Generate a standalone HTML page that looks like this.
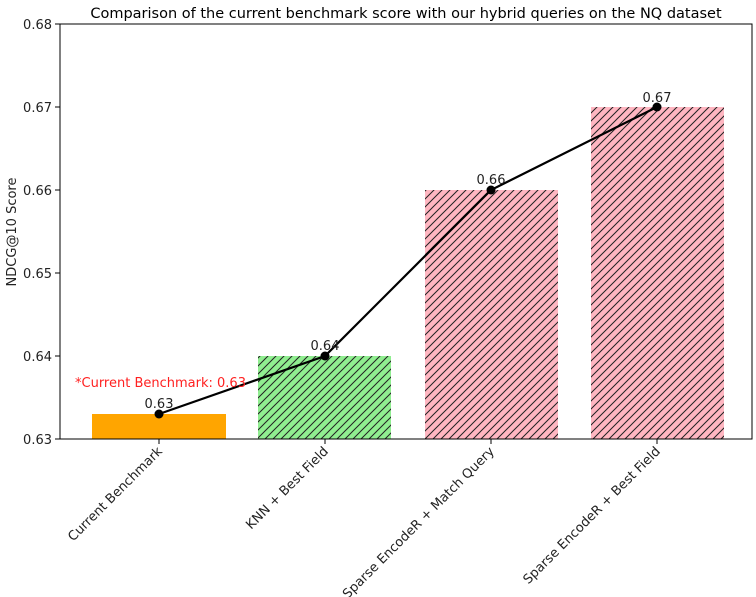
<!DOCTYPE html><html><head><style>body{margin:0;background:#fff}svg{display:block;font-family:"DejaVu Sans","Liberation Sans",sans-serif}</style></head><body>
<svg width="756" height="597" xmlns="http://www.w3.org/2000/svg">
<defs><pattern id="h" patternUnits="userSpaceOnUse" width="8" height="8"><path d="M-2,2 l4,-4 M0,8 l8,-8 M6,10 l4,-4" stroke="#222" stroke-width="1"/></pattern></defs>
<text x="406" y="18" text-anchor="middle" font-size="14.5" fill="#000">Comparison of the current benchmark score with our hybrid queries on the NQ dataset</text>
<rect x="92" y="414" width="134" height="25" fill="#ffa500"/>
<rect x="258" y="356" width="133" height="83" fill="#90ee90"/><rect x="258" y="356" width="133" height="83" fill="url(#h)"/>
<rect x="425" y="190" width="133" height="249" fill="#ffb6c1"/><rect x="425" y="190" width="133" height="249" fill="url(#h)"/>
<rect x="591" y="107" width="133" height="332" fill="#ffb6c1"/><rect x="591" y="107" width="133" height="332" fill="url(#h)"/>
<rect x="60" y="24" width="692" height="415" fill="none" stroke="#000" stroke-width="1"/>
<g stroke="#000"><line x1="55" y1="24" x2="60" y2="24"/><line x1="55" y1="107" x2="60" y2="107"/><line x1="55" y1="190" x2="60" y2="190"/><line x1="55" y1="273" x2="60" y2="273"/><line x1="55" y1="356" x2="60" y2="356"/><line x1="55" y1="439" x2="60" y2="439"/>
<line x1="159" y1="439" x2="159" y2="444"/><line x1="325" y1="439" x2="325" y2="444"/><line x1="491" y1="439" x2="491" y2="444"/><line x1="657" y1="439" x2="657" y2="444"/></g>
<g font-size="13" fill="#222" text-anchor="end"><text x="52" y="29">0.68</text><text x="52" y="112">0.67</text><text x="52" y="195">0.66</text><text x="52" y="278">0.65</text><text x="52" y="361">0.64</text><text x="52" y="444">0.63</text></g>
<text transform="translate(16,232) rotate(-90)" text-anchor="middle" font-size="13" fill="#222">NDCG@10 Score</text>
<g font-size="13" fill="#222" text-anchor="end">
<text transform="translate(163,452) rotate(-45)">Current Benchmark</text>
<text transform="translate(329,452) rotate(-45)">KNN + Best Field</text>
<text transform="translate(495,452) rotate(-45)">Sparse EncodeR + Match Query</text>
<text transform="translate(661,452) rotate(-45)">Sparse EncodeR + Best Field</text></g>
<polyline points="159,414 325,356 491,190 657,107" fill="none" stroke="#000" stroke-width="2.2"/>
<g fill="#000"><circle cx="159" cy="414" r="4.5"/><circle cx="325" cy="356" r="4.5"/><circle cx="491" cy="190" r="4.5"/><circle cx="657" cy="107" r="4.5"/></g>
<g font-size="13" fill="#222" text-anchor="middle"><text x="159" y="408">0.63</text><text x="325" y="350">0.64</text><text x="491" y="184">0.66</text><text x="657" y="102">0.67</text></g>
<text x="75" y="387" font-size="13" fill="#ff2020">*Current Benchmark: 0.63</text>
</svg></body></html>
